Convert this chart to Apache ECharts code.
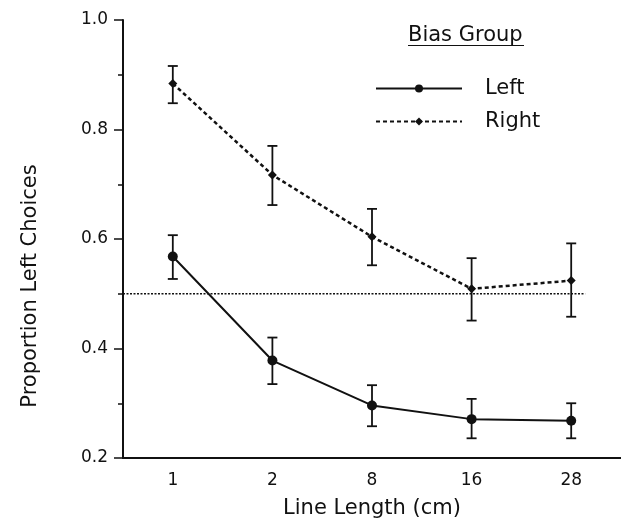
<!DOCTYPE html>
<html>
<head>
<meta charset="utf-8">
<script src="https://cdn.jsdelivr.net/npm/echarts@6/dist/echarts.min.js"></script>
<style>
  html, body { margin: 0; padding: 0; background: #fff; }
  #chart { width: 621px; height: 521px; }
</style>
</head>
<body>
<div id="chart"></div>
<script>
// Line length categories (cm)
const lineLengths = ['1', '2', '8', '16', '28'];

// Mean proportion of left choices per bias group
const leftMeans  = [0.568, 0.378, 0.296, 0.271, 0.268];
const rightMeans = [0.884, 0.717, 0.604, 0.509, 0.524];

// Error bar limits (lower, upper)
const leftLow   = [0.527, 0.335, 0.258, 0.236, 0.236];
const leftHigh  = [0.607, 0.420, 0.333, 0.308, 0.300];
const rightLow  = [0.848, 0.662, 0.552, 0.451, 0.458];
const rightHigh = [0.916, 0.770, 0.655, 0.565, 0.592];

// Y axis ticks
const yMin = 0.2, yMax = 1.0, yStep = 0.2;

// Chance level reference line, spanning category units
const chanceLevel = 0.5;
const chanceFrom = -0.5, chanceTo = 4.14;

const FONT = 'DejaVu Sans';
const INK = '#111';

function errorData(low, high) {
  return low.map((l, i) => [i, l, high[i]]);
}

function renderErrorBar(params, api) {
  const x = api.value(0);
  const lo = api.coord([x, api.value(1)]);
  const hi = api.coord([x, api.value(2)]);
  const cap = 5;
  const style = { stroke: INK, lineWidth: 1.8, fill: null };
  return {
    type: 'group',
    children: [
      { type: 'line', shape: { x1: hi[0], y1: hi[1], x2: lo[0], y2: lo[1] }, style },
      { type: 'line', shape: { x1: hi[0] - cap, y1: hi[1], x2: hi[0] + cap, y2: hi[1] }, style },
      { type: 'line', shape: { x1: lo[0] - cap, y1: lo[1], x2: lo[0] + cap, y2: lo[1] }, style }
    ]
  };
}

function renderChance(params, api) {
  const band = api.size([1, 0])[0];
  const p0 = api.coord([0, api.value(0)]);
  const x1 = p0[0] + chanceFrom * band;
  const x2 = p0[0] + chanceTo * band;
  return {
    type: 'line',
    shape: { x1: x1, y1: p0[1], x2: x2, y2: p0[1] },
    style: { stroke: INK, lineWidth: 1.6, lineDash: [2, 1.5] }
  };
}

const chart = echarts.init(document.getElementById('chart'), null, { renderer: 'canvas' });

chart.setOption({
  backgroundColor: '#fff',
  animation: false,
  textStyle: { fontFamily: FONT, color: INK },
  title: {
    text: 'Bias Group',
    left: 408,
    top: 25,
    padding: 0,
    textStyle: { fontFamily: FONT, fontSize: 21, fontWeight: 'normal', color: INK }
  },
  graphic: [
    {
      type: 'line',
      shape: { x1: 408, y1: 45.5, x2: 524, y2: 45.5 },
      style: { stroke: INK, lineWidth: 1.2 }
    }
  ],
  legend: {
    orient: 'vertical',
    left: 375,
    top: 78,
    padding: 0,
    itemWidth: 86,
    itemHeight: 10,
    itemGap: 12,
    data: ['Left', 'Right'],
    textStyle: { fontFamily: FONT, fontSize: 21, color: INK, padding: [0, 0, 0, 18] }
  },
  grid: { left: 123, right: 0, top: 20, bottom: 63, containLabel: false, outerBoundsMode: 'none' },
  xAxis: {
    type: 'category',
    data: lineLengths,
    boundaryGap: true,
    name: 'Line Length (cm)',
    nameLocation: 'middle',
    nameGap: 40,
    nameTextStyle: { fontFamily: FONT, fontSize: 21, color: INK },
    axisLine: { lineStyle: { color: INK, width: 2 } },
    axisTick: { alignWithLabel: true, length: 6, lineStyle: { color: INK, width: 1.5 } },
    axisLabel: { fontFamily: FONT, fontSize: 17, color: INK, margin: 14 },
    splitLine: { show: false }
  },
  yAxis: {
    type: 'value',
    min: yMin,
    max: yMax,
    interval: yStep,
    name: 'Proportion Left Choices',
    nameLocation: 'middle',
    nameGap: 82,
    nameTextStyle: { fontFamily: FONT, fontSize: 21, color: INK, padding: [0, 94, 0, 0] },
    axisLine: { show: true, lineStyle: { color: INK, width: 2 } },
    axisTick: { show: true, length: 9, lineStyle: { color: INK, width: 1.5 } },
    minorTick: { show: true, splitNumber: 2, length: 5, lineStyle: { color: INK, width: 1.5 } },
    axisLabel: { fontFamily: FONT, fontSize: 17, color: INK, margin: 15, formatter: v => v.toFixed(1) },
    splitLine: { show: false }
  },
  series: [
    {
      name: 'chance',
      type: 'custom',
      renderItem: renderChance,
      data: [[chanceLevel]],
      encode: { y: 0 },
      silent: true,
      z: 1
    },
    {
      name: 'Left error',
      type: 'custom',
      renderItem: renderErrorBar,
      data: errorData(leftLow, leftHigh),
      encode: { x: 0, y: [1, 2] },
      z: 2
    },
    {
      name: 'Right error',
      type: 'custom',
      renderItem: renderErrorBar,
      data: errorData(rightLow, rightHigh),
      encode: { x: 0, y: [1, 2] },
      z: 2
    },
    {
      name: 'Left',
      type: 'line',
      data: leftMeans,
      symbol: 'circle',
      symbolSize: 10,
      itemStyle: { color: INK },
      lineStyle: { color: INK, width: 2, type: 'solid' },
      z: 3
    },
    {
      name: 'Right',
      type: 'line',
      data: rightMeans,
      symbol: 'diamond',
      symbolSize: 9,
      itemStyle: { color: INK },
      lineStyle: { color: INK, width: 2.5, type: [4, 3] },
      z: 3
    }
  ]
});
</script>
</body>
</html>
